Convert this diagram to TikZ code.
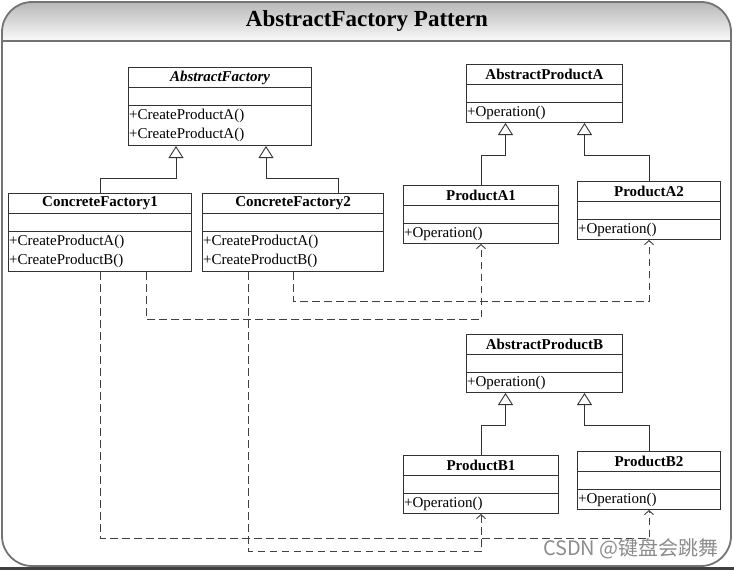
\documentclass[tikz,border=0pt]{standalone}
\usepackage{fontspec}
\setmainfont{Liberation Serif}
\newfontfamily\cjkfont{Noto Sans CJK SC}
\usetikzlibrary{arrows.meta}

\tikzset{
  classbox/.style={draw=black!80, line width=1pt, anchor=north west, inner sep=0pt},
  classname/.style={font=\fontsize{15}{18}\selectfont\bfseries, inner sep=0pt},
  classops/.style={font=\fontsize{15}{18.5}\selectfont, align=left, anchor=north west, inner sep=0pt},
  sepline/.style={draw=black!80, line width=1pt},
  inherit/.style={draw=black!80, line width=0.9pt, -{Triangle[open, length=12pt, width=15pt]}},
  depends/.style={draw=black!75, line width=0.9pt, dash pattern=on 7.5pt off 4.5pt,
    -{Straight Barb[length=4pt, width=9pt]}},
}

% class box: name, x, y, width, height, title, operations
\newcommand{\umlclass}[7]{
  \node[classbox, minimum width=#4pt, minimum height=#5pt] (#1) at (#2,#3) {};
  \node[classname] (#1-name) at ([yshift=-10.5pt]#1.north) {#6};
  \draw[sepline] ([yshift=-20.5pt]#1.north west) -- ([yshift=-20.5pt]#1.north east);
  \draw[sepline] ([yshift=-38.5pt]#1.north west) -- ([yshift=-38.5pt]#1.north east);
  \node[classops] (#1-ops) at ([xshift=1pt,yshift=-42pt]#1.north west) {#7};
}

\begin{document}
\begin{tikzpicture}[x=1pt, y=-1pt]
  \useasboundingbox (0,0) rectangle (734,570);

  % Frame with title bar
  \begin{scope}
    \clip[rounded corners=30pt] (2,2) rectangle (731,566);
    \shade[top color=black!28, bottom color=black!2] (2,2) rectangle (731,41);
  \end{scope}
  \draw[black!55, line width=1.8pt] (2,41) -- (731,41);
  \draw[black!55, line width=1.8pt, rounded corners=30pt] (2,2) rectangle (731,566);
  \fill[black!75] (0,567) rectangle (734,570);
  \node[font=\fontsize{23}{26}\selectfont\bfseries] (title) at (367,21) {AbstractFactory Pattern};

  % Factories
  \umlclass{af}{128}{67}{183}{78}{\itshape AbstractFactory}{+CreateProductA()\\+CreateProductA()}
  \umlclass{cf1}{8}{193}{183}{78}{ConcreteFactory1}{+CreateProductA()\\+CreateProductB()}
  \umlclass{cf2}{202}{193}{181}{78}{ConcreteFactory2}{+CreateProductA()\\+CreateProductB()}

  % Products A
  \umlclass{apa}{466}{64}{156}{58}{AbstractProductA}{+Operation()}
  \umlclass{pa1}{403}{185}{155}{58}{ProductA1}{+Operation()}
  \umlclass{pa2}{577}{181}{143}{58}{ProductA2}{+Operation()}

  % Products B
  \umlclass{apb}{466}{334}{156}{58}{AbstractProductB}{+Operation()}
  \umlclass{pb1}{403}{455}{155}{58}{ProductB1}{+Operation()}
  \umlclass{pb2}{577}{451}{143}{58}{ProductB2}{+Operation()}

  % Generalisation
  \draw[inherit] (cf1.north) |- ([xshift=-44pt,yshift=-32pt]af.south) -- ([xshift=-44pt]af.south);
  \draw[inherit] ([xshift=45.5pt]cf2.north) |- ([xshift=46pt,yshift=-32pt]af.south) -- ([xshift=46pt]af.south);
  \draw[inherit] (pa1.north) |- ([xshift=-39pt,yshift=-32pt]apa.south) -- ([xshift=-39pt]apa.south);
  \draw[inherit] (pa2.north) |- ([xshift=40pt,yshift=-32pt]apa.south) -- ([xshift=40pt]apa.south);
  \draw[inherit] (pb1.north) |- ([xshift=-39pt,yshift=-32pt]apb.south) -- ([xshift=-39pt]apb.south);
  \draw[inherit] (pb2.north) |- ([xshift=40pt,yshift=-32pt]apb.south) -- ([xshift=40pt]apb.south);

  % Dependencies
  \draw[depends] ([xshift=46pt]cf1.south) -- ++(0,47) -| (pa1.south);
  \draw[depends] (cf2.south) -- ++(0,29) -| (pa2.south);
  \draw[depends] (cf1.south) -- ++(0,266) -| (pb2.south);
  \draw[depends] ([xshift=-44.5pt]cf2.south) -- ++(0,279) -| (pb1.south);

  % Watermark
  \node[font=\cjkfont\fontsize{20}{23}\selectfont, text=black!45, anchor=east, inner sep=0pt] (mark) at (719,549) {CSDN @键盘会跳舞};
\end{tikzpicture}
\end{document}
